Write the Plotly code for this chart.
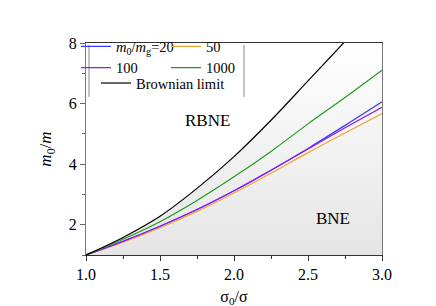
import plotly.graph_objects as go

# ---- data ----
x_common = [1.0, 1.25, 1.5, 1.75, 2.0, 2.25, 2.5, 2.75, 3.0]
y_20 = [1.0, 1.45, 1.95, 2.5, 3.12, 3.8, 4.52, 5.28, 6.06]
y_50 = [1.0, 1.42, 1.9, 2.44, 3.05, 3.7, 4.38, 5.03, 5.67]
y_100 = [1.0, 1.45, 1.95, 2.5, 3.12, 3.8, 4.5, 5.2, 5.88]
y_1000 = [1.0, 1.52, 2.1, 2.8, 3.58, 4.42, 5.33, 6.2, 7.1]
x_brown = [1.0, 1.25, 1.5, 1.75, 2.0, 2.25, 2.5, 2.74]
y_brown = [1.0, 1.58, 2.28, 3.2, 4.25, 5.45, 6.75, 8.0]

x_ticks = [1.0, 1.5, 2.0, 2.5, 3.0]
x_ticklabels = ["1.0", "1.5", "2.0", "2.5", "3.0"]
y_ticks = [2, 4, 6, 8]

FONT = "'Liberation Serif', 'Times New Roman', Times, serif"

fig = go.Figure()

# gradient-filled region under the Brownian limit
fig.add_trace(go.Scatter(
    x=x_brown + [3.0], y=y_brown + [8.0],
    mode="lines", line=dict(width=0, shape="spline"),
    fill="tozeroy",
    fillgradient=dict(type="vertical", start=1, stop=8,
                      colorscale=[[0, "#e4e4e4"], [1, "#ffffff"]]),
    showlegend=False, hoverinfo="skip"))

series = [
    (y_20, "#3b3bff", "<i>m</i><sub>0</sub>/<i>m</i><sub>g</sub>=20", "legend"),
    (y_50, "#f0a434", "50", "legend2"),
    (y_100, "#8a1ef0", "100", "legend3"),
    (y_1000, "#1f9a1f", "1000", "legend4"),
]
for ys, col, name, lg in series:
    fig.add_trace(go.Scatter(x=x_common, y=ys, mode="lines", name=name,
                             line=dict(color=col, width=1.2, shape="spline"),
                             legend=lg))

fig.add_trace(go.Scatter(x=x_brown, y=y_brown, mode="lines", name="Brownian limit",
                         line=dict(color="black", width=1.2, shape="spline"),
                         legend="legend5"))

W, H = 436, 306
L, R, T, B = 78, 62, 35, 51
pw, ph = W - L - R, H - T - B

def px(x):
    return (x - L) / pw

def py(y):
    return (H - B - y) / ph

leg_common = dict(orientation="v", xanchor="left", yanchor="top",
                  bgcolor="rgba(0,0,0,0)", borderwidth=0,
                  font=dict(family=FONT, size=14.5, color="black"),
                  itemwidth=30, tracegroupgap=0)

fig.update_layout(
    width=W, height=H,
    margin=dict(l=L, r=R, t=T, b=B),
    paper_bgcolor="white", plot_bgcolor="white",
    font=dict(family=FONT, size=16, color="black"),
    legend=dict(x=px(68), y=py(22), **leg_common),
    legend2=dict(x=px(158), y=py(22), **leg_common),
    legend3=dict(x=px(68), y=py(44), **leg_common),
    legend4=dict(x=px(158), y=py(44), **leg_common),
    legend5=dict(x=px(88), y=py(60), **leg_common),
    xaxis=dict(range=[1.0, 3.0], tickvals=x_ticks, ticktext=x_ticklabels,
               ticks="outside", ticklen=5, tickcolor="#333",
               showline=True, linecolor="#333", linewidth=1, mirror=True,
               showgrid=False, zeroline=False,
               minor=dict(dtick=0.25, tick0=1.0, ticks="outside", ticklen=3, tickcolor="#333"),
               title=dict(text="σ<sub>0</sub>/σ", font=dict(family=FONT, size=16), standoff=8),
               tickfont=dict(family=FONT, size=16)),
    yaxis=dict(range=[1, 8], tickvals=y_ticks,
               ticks="outside", ticklen=5, tickcolor="#666",
               showline=True, linecolor="#777", linewidth=1, mirror=True,
               showgrid=False, zeroline=False,
               minor=dict(dtick=1, tick0=1, ticks="outside", ticklen=3, tickcolor="#666"),
               title=dict(text="<i>m</i><sub>0</sub>/<i>m</i>", font=dict(family=FONT, size=17), standoff=12),
               tickfont=dict(family=FONT, size=16)),
    annotations=[
        dict(x=1.82, y=5.45, text="RBNE", showarrow=False, xref="x", yref="y",
             font=dict(family=FONT, size=17)),
        dict(x=2.67, y=2.2, text="BNE", showarrow=False, xref="x", yref="y",
             font=dict(family=FONT, size=17)),
    ],
    shapes=[
        dict(type="line", xref="paper", yref="paper", x0=px(81), x1=px(81),
             y0=py(37), y1=py(91), line=dict(color="#888", width=1)),
        dict(type="line", xref="paper", yref="paper", x0=px(236), x1=px(236),
             y0=py(37), y1=py(91), line=dict(color="#888", width=1)),
    ],
)

fig.write_html("out.html")
